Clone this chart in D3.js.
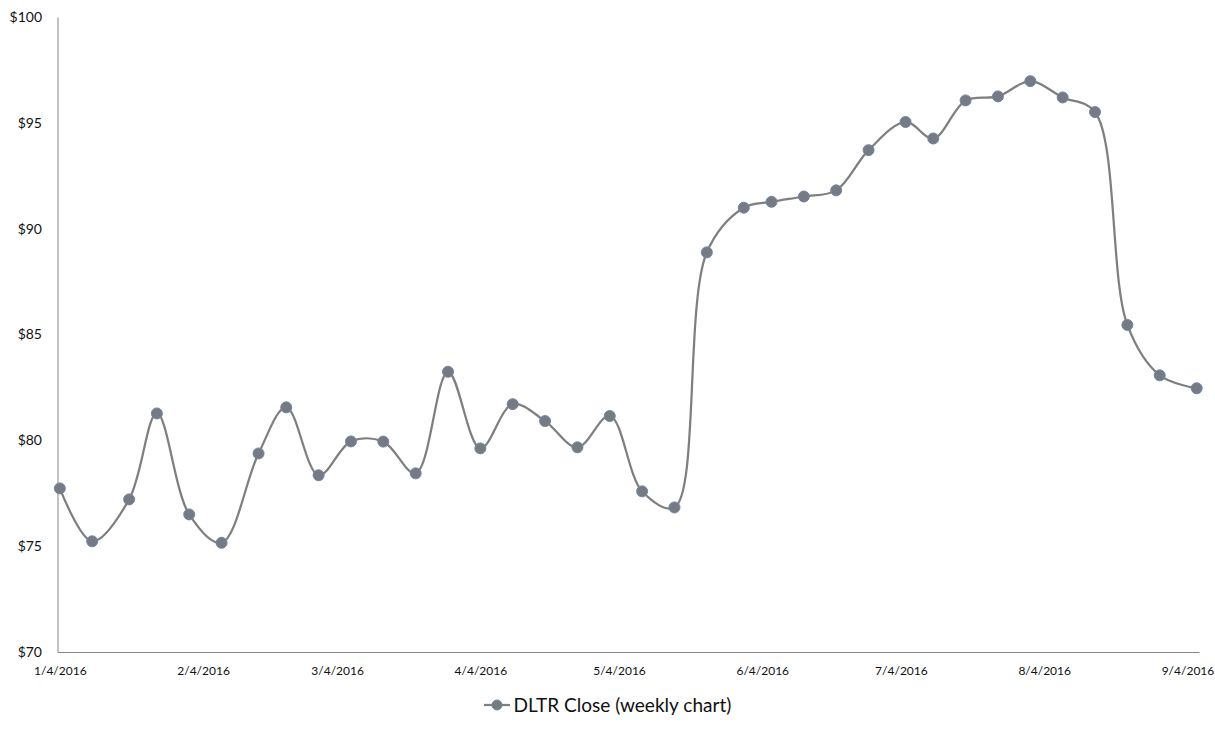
<!DOCTYPE html>
<html>
<head>
<meta charset="utf-8">
<script src="https://cdn.jsdelivr.net/npm/d3@7"></script>
<style>
  html, body { margin: 0; padding: 0; background: #fff; }
  svg { display: block; font-family: Lato, "Open Sans", sans-serif; }
</style>
</head>
<body>
<svg id="chart" width="1215" height="731"></svg>
<script>
// ---- data (weekly closes) ----
const dates = [
  "2016-01-04","2016-01-11","2016-01-19","2016-01-25",
  "2016-02-01","2016-02-08","2016-02-16","2016-02-22","2016-02-29",
  "2016-03-07","2016-03-14","2016-03-21","2016-03-28",
  "2016-04-04","2016-04-11","2016-04-18","2016-04-25",
  "2016-05-02","2016-05-09","2016-05-16","2016-05-23","2016-05-31",
  "2016-06-06","2016-06-13","2016-06-20","2016-06-27",
  "2016-07-05","2016-07-11","2016-07-18","2016-07-25",
  "2016-08-01","2016-08-08","2016-08-15","2016-08-22","2016-08-29",
  "2016-09-06"
];
const closes = [
  77.73, 75.23, 77.21, 81.27,
  76.50, 75.16, 79.38, 81.56, 78.35,
  79.95, 79.94, 78.44, 83.24,
  79.62, 81.71, 80.91, 79.67,
  81.15, 77.59, 76.83, 88.88, 90.99,
  91.27, 91.52, 91.81, 93.71,
  95.04, 94.26, 96.06, 96.25,
  96.97, 96.20, 95.51, 85.45, 83.07,
  82.46
];
const xTickLabels = ["2016-01-04","2016-02-04","2016-03-04","2016-04-04","2016-05-04","2016-06-04","2016-07-04","2016-08-04","2016-09-04"];
const yTicks = [70, 75, 80, 85, 90, 95, 100];
const seriesName = "DLTR Close (weekly chart)";

// ---- helpers ----
const parseDay = s => { const [y,m,d] = s.split("-").map(Number); return new Date(Date.UTC(y, m-1, d)); };
const midDay = s => { const t = parseDay(s); return new Date(t.getTime() + 12*3600*1000); };

const svg = d3.select("#chart");
const plot = { left: 57.5, right: 1199, top: 17, bottom: 652 };

const x = d3.scaleUtc()
  .domain([parseDay(dates[0]), d3.utcDay.offset(parseDay(dates[dates.length-1]), 1)])
  .range([plot.left, plot.right]);
const y = d3.scaleLinear().domain([70, 100]).range([plot.bottom, plot.top]);

const data = dates.map((d, i) => ({ date: midDay(d), value: closes[i] }));

// ---- axes ----
const axisColor = "#868686";
const yAxis = svg.append("g")
  .attr("transform", `translate(${plot.left},0)`)
  .call(d3.axisLeft(y).tickValues(yTicks).tickFormat(d => "$" + d).tickSize(0).tickSizeOuter(0).tickPadding(15.5));
yAxis.select(".domain").attr("stroke", axisColor).attr("stroke-width", 1);
yAxis.selectAll("text").attr("font-size", 14).attr("fill", "#111").attr("font-family", "Lato, sans-serif");

const xAxis = svg.append("g")
  .attr("transform", `translate(0,${plot.bottom})`)
  .call(d3.axisBottom(x).tickValues(xTickLabels.map(midDay)).tickFormat(d3.utcFormat("%-m/%-d/%Y")).tickSize(0).tickSizeOuter(0).tickPadding(14.5));
xAxis.select(".domain").attr("stroke", axisColor).attr("stroke-width", 1);
xAxis.selectAll("text").attr("font-size", 12).attr("fill", "#111").attr("font-family", "Lato, sans-serif");

// ---- series ----
const lineColor = "#7f7f7f";
const markerFill = "#767b83";
const markerStroke = "#6f86a6";

const line = d3.line().x(d => x(d.date)).y(d => y(d.value)).curve(d3.curveCatmullRom.alpha(0.5));
svg.append("path").datum(data)
  .attr("d", line)
  .attr("fill", "none")
  .attr("stroke", lineColor)
  .attr("stroke-width", 2.25)
  .attr("stroke-linejoin", "round");

svg.append("g").selectAll("circle").data(data).join("circle")
  .attr("cx", d => x(d.date))
  .attr("cy", d => y(d.value))
  .attr("r", 5.5)
  .attr("fill", markerFill)
  .attr("stroke", markerStroke)
  .attr("stroke-width", 1);

// ---- legend ----
const lg = svg.append("g").attr("transform", "translate(484,705)");
lg.append("line").attr("x1", 0).attr("x2", 26).attr("y1", 0).attr("y2", 0)
  .attr("stroke", lineColor).attr("stroke-width", 2.25);
lg.append("circle").attr("cx", 13).attr("cy", 0).attr("r", 5)
  .attr("fill", markerFill).attr("stroke", markerStroke).attr("stroke-width", 1);
const lt = lg.append("text").attr("x", 29.5).attr("y", 6.5)
  .attr("font-size", 18).attr("fill", "#111").attr("font-family", "Lato, sans-serif")
  .text(seriesName);
// fit legend text width to the reference (~218px)
const w = lt.node().getComputedTextLength();
if (w > 0) lt.attr("font-size", Math.max(15, Math.min(20, 18 * 218 / w)));
</script>
</body>
</html>
